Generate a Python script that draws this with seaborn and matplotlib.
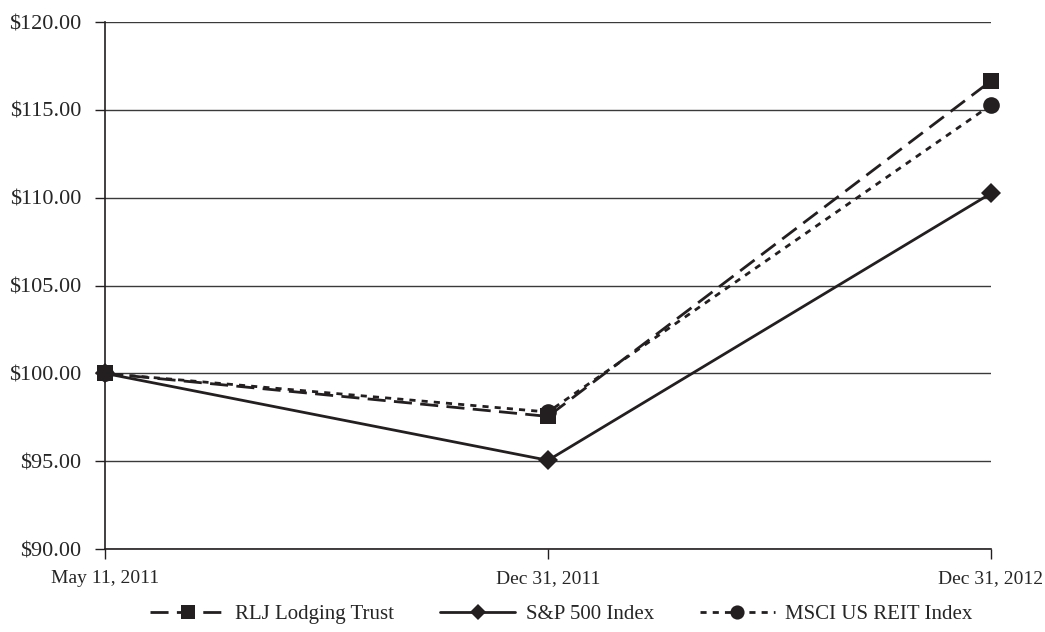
import matplotlib
matplotlib.use("Agg")
import matplotlib.pyplot as plt
import pandas as pd
import seaborn as sns

# Chart data
dates = ["May 11, 2011", "Dec 31, 2011", "Dec 31, 2012"]
rlj = [100.00, 97.55, 116.65]
sp500 = [100.00, 95.05, 110.25]
msci = [100.00, 97.80, 115.28]

series_names = ["RLJ Lodging Trust", "S&P 500 Index", "MSCI US REIT Index"]
y_ticks = [90, 95, 100, 105, 110, 115, 120]

sns.set_style("white")
plt.rcParams["font.family"] = ["Liberation Serif", "DejaVu Serif"]

ink = "#231f20"

df = pd.DataFrame({
    "pos": list(range(len(dates))) * 3,
    "value": rlj + sp500 + msci,
    "series": [s for s in series_names for _ in dates],
})

fig, ax = plt.subplots(figsize=(10.45, 6.32), dpi=100)
fig.subplots_adjust(left=0.1005, right=0.9483, top=0.965, bottom=0.1313)

styles = {
    "RLJ Lodging Trust": dict(marker="s", dashes=(6.5, 3), ms=12),
    "S&P 500 Index": dict(marker="D", dashes=None, ms=10),
    "MSCI US REIT Index": dict(marker="o", dashes=(2.2, 2.2), ms=12),
}

for name in series_names:
    st = styles[name]
    sub = df[df["series"] == name]
    sns.lineplot(data=sub, x="pos", y="value", ax=ax, color=ink, lw=2.0,
                 marker=st["marker"], markersize=st["ms"], markeredgewidth=0,
                 label=name, zorder=3, clip_on=False)
    line = ax.get_lines()[-1]
    if st["dashes"] is not None:
        line.set_dashes(st["dashes"])

ax.set_xlim(0, 2)
ax.set_ylim(90, 120)
ax.set_yticks(y_ticks)
ax.set_yticklabels([f"${v:.2f}" for v in y_ticks], fontsize=16)
ax.set_xticks(range(len(dates)))
ax.set_xticklabels(dates, fontsize=14)
ax.set_xlabel("")
ax.set_ylabel("")

ax.yaxis.grid(True, color="#3a3a3a", lw=1.0)
ax.set_axisbelow(True)
for side in ["top", "right"]:
    ax.spines[side].set_visible(False)
for side in ["left", "bottom"]:
    ax.spines[side].set_color(ink)
    ax.spines[side].set_linewidth(1.2)

ax.tick_params(axis="y", direction="out", length=7, width=1, color=ink, pad=10, left=True)
ax.tick_params(axis="x", direction="out", length=7, width=1, color=ink, pad=8, bottom=True)

ax.legend(loc="upper center", bbox_to_anchor=(0.515, -0.07), ncol=3, frameon=False,
          fontsize=15, handlelength=3.6, handletextpad=0.5, columnspacing=2.2,
          markerscale=0.85)

fig.savefig("out.png", dpi=100)
